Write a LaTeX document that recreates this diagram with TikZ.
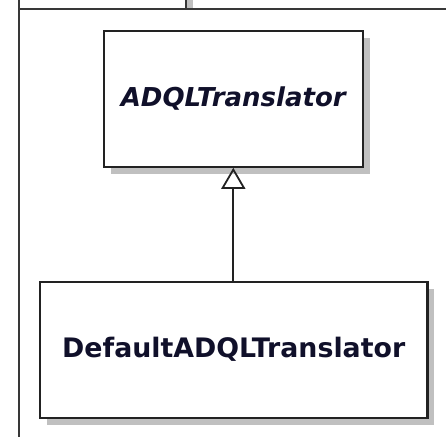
\documentclass[tikz,border=0pt]{standalone}
\usepackage{fontspec}
\setmainfont{DejaVu Sans}
\usetikzlibrary{arrows.meta,shadows}
\definecolor{edgecol}{HTML}{222222}
\definecolor{framecol}{HTML}{383838}
\definecolor{shadowcol}{HTML}{C0C0C0}
\definecolor{textcol}{HTML}{10102A}
\tikzset{
  classbox/.style={draw=edgecol, line width=2.2pt, fill=white, inner sep=0pt,
    minimum height=136pt, text=textcol,
    drop shadow={shadow xshift=7pt, shadow yshift=-7pt, fill=shadowcol, opacity=1}},
  framel/.style={draw=framecol, line width=2pt},
  inherit/.style={draw=edgecol, line width=1.8pt, -{Triangle[open, length=21pt, width=24pt, line width=1.8pt]}}
}
\begin{document}
\begin{tikzpicture}[x=1pt, y=-1pt]
\useasboundingbox (0,0) rectangle (446,437);
% frame
\fill[shadowcol] (187,0) rectangle (193,8);
\coordinate (fTL) at (18.5,0);
\coordinate (fBL) at (18.5,437);
\coordinate (fTopL) at (18.5,8.7);
\coordinate (fTopR) at (446,8.7);
\coordinate (fTab) at (186,0);
\coordinate (fTabB) at (186,8.7);
\draw[framel] (fTL) -- (fBL);
\draw[framel] (fTopL) -- (fTopR);
\draw[framel] (fTab) -- (fTabB);
% classes
\node[classbox, minimum width=258.7pt] (abs) at (233.3,98.7)
  {\fontsize{26}{30}\selectfont\bfseries\itshape ADQLTranslator};
\node[classbox, minimum width=387.5pt] (def) at (233.7,349.7)
  {\fontsize{26.8}{30}\selectfont\bfseries DefaultADQLTranslator};
\draw[inherit] (def.north -| abs.south) -- (abs.south);
\end{tikzpicture}
\end{document}
